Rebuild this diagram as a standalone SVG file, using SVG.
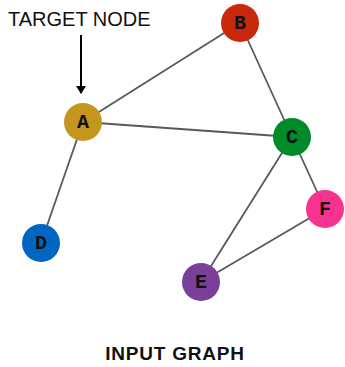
<svg xmlns="http://www.w3.org/2000/svg" width="345" height="367" viewBox="0 0 345 367">
<defs>
<marker id="ah" markerWidth="8" markerHeight="10" refX="7" refY="5" orient="auto" markerUnits="userSpaceOnUse">
<path d="M0,0 L8,5 L0,10 Z" fill="#000"/>
</marker>
<style>
.edge{stroke:#555a60;stroke-width:1.8;fill:none}
</style>
</defs>
<rect width="345" height="367" fill="#fff"/>
<g id="connectors">
<line class="edge" x1="83" y1="122" x2="240" y2="23"/>
<line class="edge" x1="83" y1="122" x2="292" y2="137"/>
<line class="edge" x1="83" y1="122" x2="41" y2="243"/>
<line class="edge" x1="240" y1="23" x2="292" y2="137"/>
<line class="edge" x1="292" y1="137" x2="325" y2="209"/>
<line class="edge" x1="292" y1="137" x2="201" y2="282"/>
<line class="edge" x1="325" y1="209" x2="201" y2="282"/>
<line x1="81" y1="35" x2="81" y2="93" stroke="#000" stroke-width="2" marker-end="url(#ah)"/>
</g>
<g font-family="'Courier New', 'Nimbus Mono PS', FreeMono, 'Liberation Mono', monospace" font-weight="bold" font-size="20" text-anchor="middle" fill="#111">
<g id="node-A"><circle cx="83" cy="122" r="19" fill="#c4961d"/><text x="83" y="128">A</text></g>
<g id="node-B"><circle cx="240" cy="23" r="19" fill="#c9280c"/><text x="240" y="29">B</text></g>
<g id="node-C"><circle cx="292" cy="137" r="19" fill="#008a2a"/><text x="292" y="143">C</text></g>
<g id="node-D"><circle cx="41" cy="243" r="19" fill="#0066c2"/><text x="41" y="249">D</text></g>
<g id="node-E"><circle cx="201" cy="282" r="19" fill="#7a3f98"/><text x="201" y="288">E</text></g>
<g id="node-F"><circle cx="325" cy="209" r="19" fill="#f7338f"/><text x="325" y="215">F</text></g>
</g>
<text x="8" y="26" font-family="Liberation Sans, Arial, sans-serif" font-size="20" font-weight="300" fill="#111">TARGET NODE</text>
<text x="175" y="360" font-family="Liberation Sans, Arial, sans-serif" font-size="19" font-weight="bold" letter-spacing="0.8" text-anchor="middle" fill="#111">INPUT GRAPH</text>
</svg>
